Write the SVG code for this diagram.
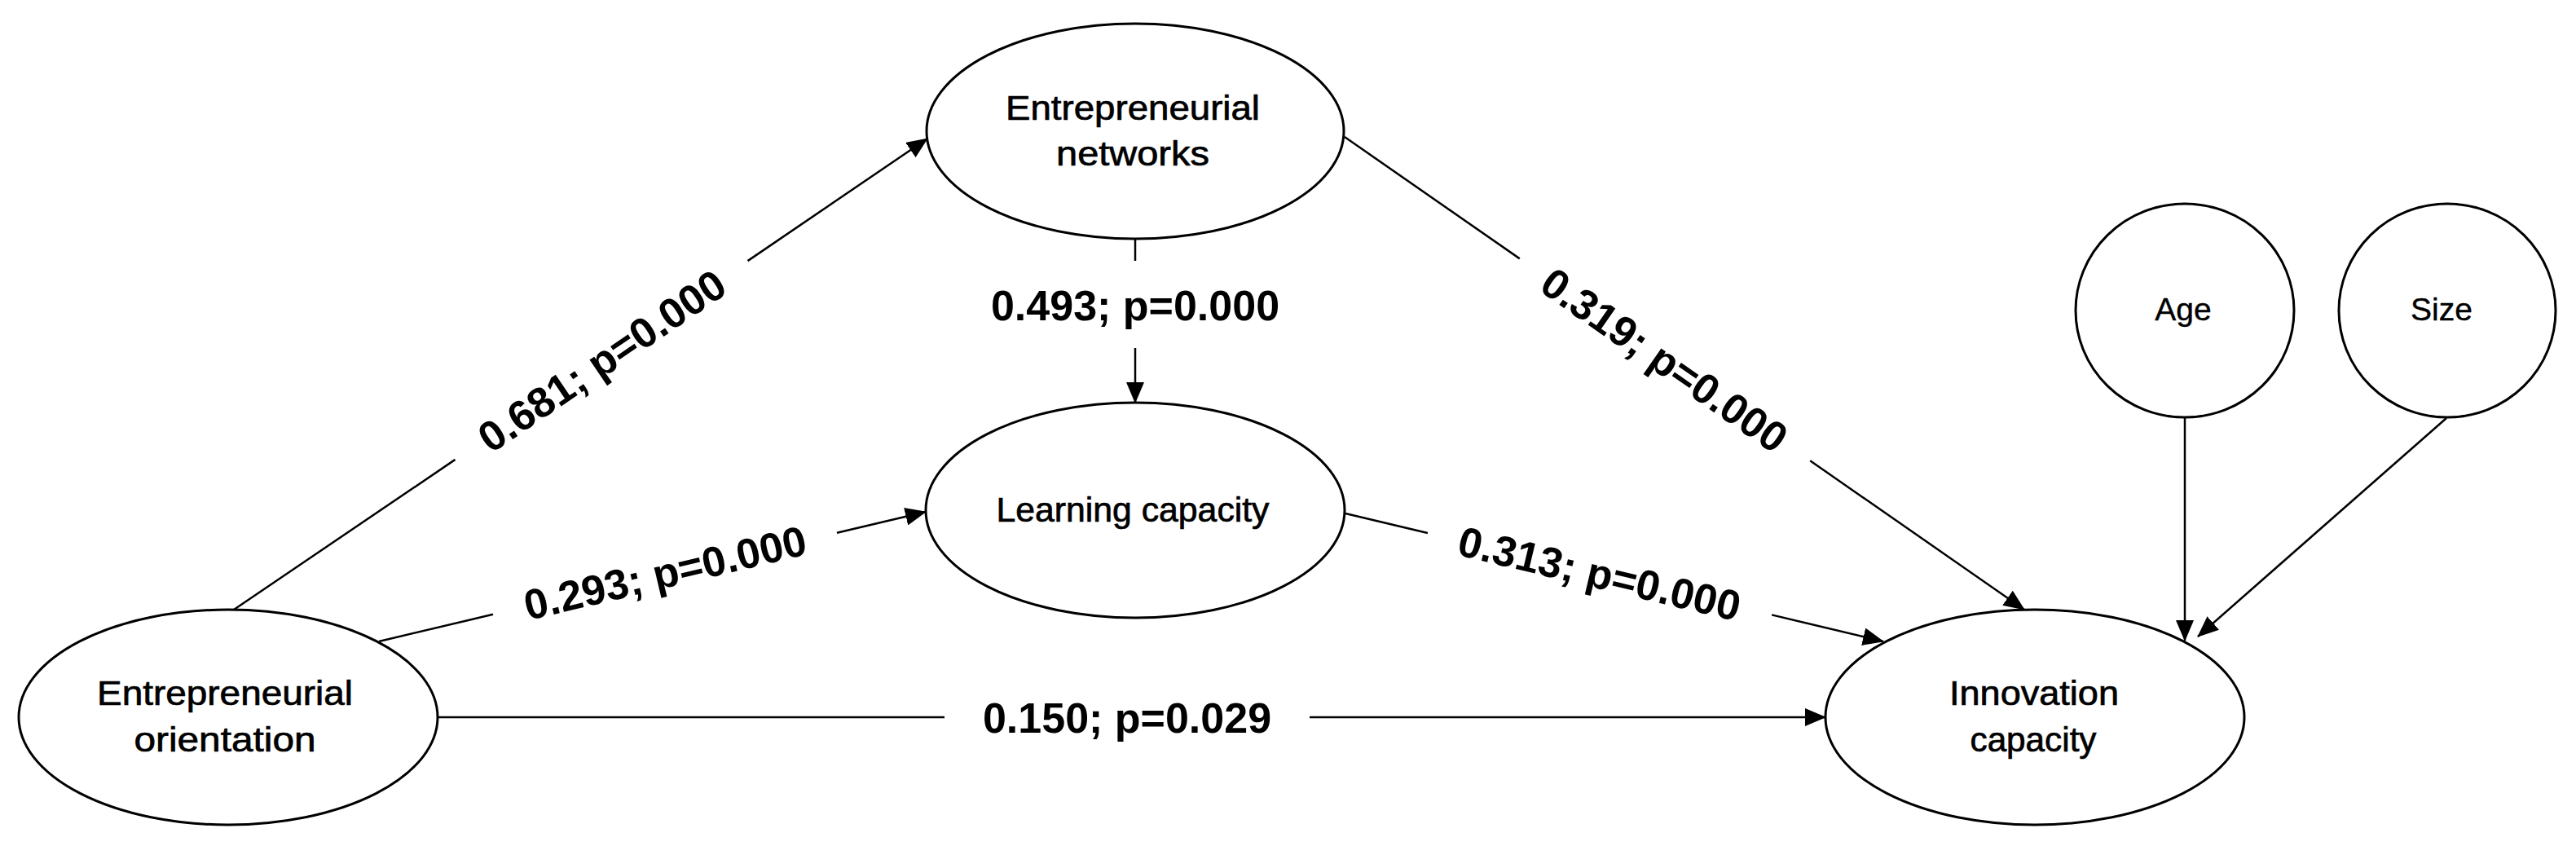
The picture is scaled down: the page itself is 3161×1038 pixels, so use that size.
<svg xmlns="http://www.w3.org/2000/svg" width="3161" height="1038" viewBox="0 0 3161 1038">
<style>
.bg{fill:#fff}
.node ellipse{fill:#fff;stroke:#000;stroke-width:3}
.nt{font-family:"Liberation Sans",Arial,sans-serif;font-size:42px;fill:#000;stroke:#000;stroke-width:0.7;text-anchor:middle}
.ct{font-size:39px;stroke-width:0.4}
.conn line{stroke:#000;stroke-width:2.5;fill:none}
.lbl{font-family:"Liberation Sans",Arial,sans-serif;font-size:52px;font-weight:bold;fill:#000;text-anchor:middle}
</style>
<defs>
<marker id="ah" markerUnits="userSpaceOnUse" markerWidth="26" markerHeight="22" refX="25" refY="11" orient="auto" viewBox="0 0 26 22">
<path d="M0,0 L26,11 L0,22 Z" fill="#000"/>
</marker>
</defs>
<rect class="bg" x="0" y="0" width="3161" height="1038"/>

<g id="connectors" class="conn">
<line x1="287" y1="748" x2="558.5" y2="563.9"/>
<line x1="917.5" y1="320.1" x2="1138" y2="170" marker-end="url(#ah)"/>
<line x1="465" y1="787" x2="605" y2="753.8"/>
<line x1="1027" y1="653.8" x2="1136" y2="628" marker-end="url(#ah)"/>
<line x1="537" y1="880" x2="1159" y2="880"/>
<line x1="1607" y1="880" x2="2240" y2="880" marker-end="url(#ah)"/>
<line x1="1393" y1="293" x2="1393" y2="320"/>
<line x1="1393" y1="427" x2="1393" y2="494" marker-end="url(#ah)"/>
<line x1="1650" y1="168" x2="1864.8" y2="317.4"/>
<line x1="2221.2" y1="565.2" x2="2484" y2="748" marker-end="url(#ah)"/>
<line x1="1651" y1="630" x2="1751.9" y2="654"/>
<line x1="2174.1" y1="754.4" x2="2311" y2="787" marker-end="url(#ah)"/>
<line x1="2681" y1="512" x2="2681" y2="786" marker-end="url(#ah)"/>
<line x1="3002" y1="513" x2="2697" y2="781" marker-end="url(#ah)"/>
</g>

<g id="labels">
<text class="lbl" transform="translate(738,442) rotate(-34.2)" x="0" y="19">0.681; p=0.000</text>
<text class="lbl" transform="translate(816,702) rotate(-13.33)" x="0" y="19">0.293; p=0.000</text>
<text class="lbl" x="1383" y="899">0.150; p=0.029</text>
<text class="lbl" x="1393" y="393">0.493; p=0.000</text>
<text class="lbl" transform="translate(2043,441) rotate(34.81)" x="0" y="19">0.319; p=0.000</text>
<text class="lbl" transform="translate(1963,703) rotate(13.38)" x="0" y="19">0.313; p=0.000</text>
</g>

<g id="node-eo" class="node">
<ellipse cx="280" cy="880" rx="257" ry="132"/>
<text class="nt" x="276" y="865" textLength="314" lengthAdjust="spacingAndGlyphs">Entrepreneurial</text>
<text class="nt" x="276" y="922" textLength="223" lengthAdjust="spacingAndGlyphs">orientation</text>
</g>

<g id="node-en" class="node">
<ellipse cx="1393" cy="161" rx="256" ry="132"/>
<text class="nt" x="1390" y="147" textLength="312" lengthAdjust="spacingAndGlyphs">Entrepreneurial</text>
<text class="nt" x="1390" y="203" textLength="188" lengthAdjust="spacingAndGlyphs">networks</text>
</g>

<g id="node-lc" class="node">
<ellipse cx="1393" cy="626" rx="257" ry="132"/>
<text class="nt" x="1390" y="640" textLength="335" lengthAdjust="spacingAndGlyphs">Learning capacity</text>
</g>

<g id="node-ic" class="node">
<ellipse cx="2497" cy="880" rx="257" ry="132"/>
<text class="nt" x="2496" y="865" textLength="208" lengthAdjust="spacingAndGlyphs">Innovation</text>
<text class="nt" x="2495" y="922" textLength="155" lengthAdjust="spacingAndGlyphs">capacity</text>
</g>

<g id="node-age" class="node">
<ellipse cx="2681" cy="381" rx="134" ry="131"/>
<text class="nt ct" x="2679" y="393">Age</text>
</g>

<g id="node-size" class="node">
<ellipse cx="3003" cy="381" rx="133" ry="131"/>
<text class="nt ct" x="2996" y="393">Size</text>
</g>
</svg>
